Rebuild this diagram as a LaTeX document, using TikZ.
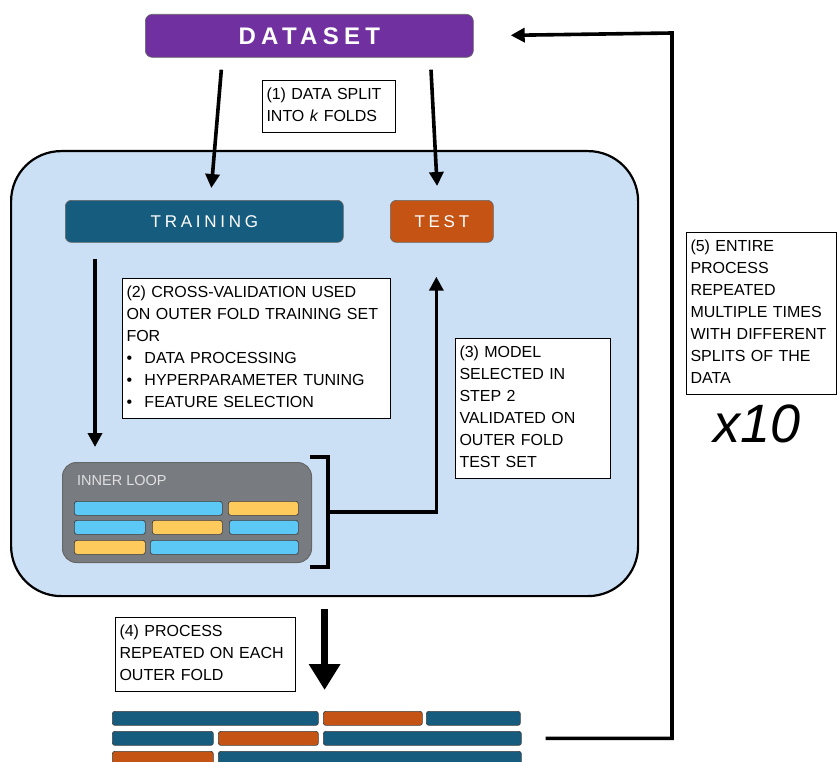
\documentclass[tikz,border=0pt]{standalone}
\usepackage{fontspec}
\setmainfont{Liberation Sans}
\newfontfamily\spacedfont[LetterSpace=22]{Liberation Sans}
\usetikzlibrary{arrows.meta}
\usetikzlibrary{positioning}

\definecolor{datapurple}{RGB}{112,48,160}
\definecolor{outerblue}{RGB}{204,224,245}
\definecolor{trainteal}{RGB}{22,92,126}
\definecolor{testorange}{RGB}{197,84,20}
\definecolor{innergray}{RGB}{120,123,128}
\definecolor{foldcyan}{RGB}{92,200,245}
\definecolor{foldyellow}{RGB}{255,202,92}

\tikzset{
  header/.style={draw=black!60, line width=0.7pt, rounded corners=6pt, text=white, anchor=north west, inner sep=0pt},
  stepnote/.style={draw, fill=white, line width=1pt, anchor=north west, inner sep=4pt, align=left,
    font=\fontsize{16}{22}\selectfont, execute at begin node=\strut, execute at end node=\strut},
  bar/.style={draw=black!75, line width=0.7pt, rounded corners=2.5pt, anchor=north west, inner sep=0pt, minimum height=14pt},
  arr/.style={line width=3.6pt, -{Triangle[length=14pt,width=14pt]}},
}

\begin{document}
\begin{tikzpicture}[x=1pt,y=-1pt]
  \useasboundingbox (0,0) rectangle (837,762);

  % top of the picture
  \node[header, fill=datapurple, minimum width=328pt, minimum height=43pt, rounded corners=7pt,
        font=\spacedfont\bfseries\fontsize{24}{24}\selectfont] (dataset) at (145,14) {DATASET};
  \node[stepnote, text width=125pt] (splitnote) at (262,80) {(1) DATA SPLIT\\INTO \textit{k} FOLDS};

  % outer fold
  \node[draw, line width=2.2pt, fill=outerblue, rounded corners=50pt, anchor=north west,
        minimum width=627pt, minimum height=445pt] (outer) at (10,150) {};
  \node[header, fill=trainteal, minimum width=278pt, minimum height=42pt,
        font=\spacedfont\fontsize{17}{17}\selectfont] (training) at (65,200) {TRAINING};
  \node[header, fill=testorange, minimum width=103pt, minimum height=42pt,
        font=\spacedfont\fontsize{17}{17}\selectfont] (test) at (390,200) {TEST};

  \node[stepnote, text width=260pt] (cvnote) at (122,278) {(2) CROSS-VALIDATION USED\\ON OUTER FOLD TRAINING SET\\FOR\\
    \makebox[18pt][l]{\textbullet}DATA PROCESSING\\
    \makebox[18pt][l]{\textbullet}HYPERPARAMETER TUNING\\
    \makebox[18pt][l]{\textbullet}FEATURE SELECTION};
  \node[stepnote, text width=147pt] (modelnote) at (455,338) {(3) MODEL\\SELECTED IN\\STEP 2\\VALIDATED ON\\OUTER FOLD\\TEST SET};

  % inner loop
  \node[draw=black!60, line width=1pt, fill=innergray, rounded corners=14pt, anchor=north west,
        minimum width=249pt, minimum height=100pt] (inner) at (62,462) {};
  \node[anchor=north west, inner sep=0pt, text=black!12, font=\fontsize{14.5}{14.5}\selectfont]
        (innerlabel) at (77,475) {INNER LOOP};
  \node[bar, fill=foldcyan, minimum width=148pt] (ia) at (74,501) {};
  \node[bar, fill=foldyellow, minimum width=70pt] (ib) at (228,501) {};
  \node[bar, fill=foldcyan, minimum width=71pt] (ic) at (74,520) {};
  \node[bar, fill=foldyellow, minimum width=70pt] (id) at (152,520) {};
  \node[bar, fill=foldcyan, minimum width=69pt] (ie) at (229,520) {};
  \node[bar, fill=foldyellow, minimum width=71pt] (if) at (74,540) {};
  \node[bar, fill=foldcyan, minimum width=148pt] (ig) at (150,540) {};

  % bracket
  \draw[line width=3.4pt] (310,457) -| (328,567) -- (310,567);
  \coordinate (brmid) at (328,512);

  % outer folds
  \node[stepnote, text width=172pt] (repeatnote) at (115,617) {(4) PROCESS\\REPEATED ON EACH\\OUTER FOLD};
  \node[bar, fill=trainteal, minimum width=206pt] (oa) at (112,711) {};
  \node[bar, fill=testorange, minimum width=99pt] (ob) at (323,711) {};
  \node[bar, fill=trainteal, minimum width=94pt] (oc) at (426,711) {};
  \node[bar, fill=trainteal, minimum width=101pt] (od) at (112,731) {};
  \node[bar, fill=testorange, minimum width=100pt] (oe) at (218,731) {};
  \node[bar, fill=trainteal, minimum width=198pt] (of) at (323,731) {};
  \node[bar, fill=testorange, minimum width=101pt] (og) at (112,751) {};
  \node[bar, fill=trainteal, minimum width=303pt] (oh) at (218,751) {};

  % repeat loop
  \node[stepnote, text width=142pt] (entirenote) at (686,232) {(5) ENTIRE\\PROCESS\\REPEATED\\MULTIPLE TIMES\\WITH DIFFERENT\\SPLITS OF THE\\DATA};
  \node[font=\fontsize{54}{54}\selectfont\itshape, inner sep=0pt] (times) at (757,424) {x10};

  % arrows
  \draw[arr, shorten <=12pt, shorten >=12pt] ([xshift=-87pt]dataset.south) -- ([xshift=6pt]training.north);
  \draw[arr, shorten <=12pt, shorten >=14pt] ([xshift=121pt]dataset.south) -- ([xshift=-4pt]test.north);
  \draw[arr, shorten <=16pt, shorten >=15pt] ([xshift=30pt]training.south west) -- ([xshift=33pt]inner.north west);
  \draw[arr] (brmid) -| ([xshift=-5.5pt,yshift=-34pt]test.south);
  \draw[line width=7.5pt, -{Triangle[length=26pt,width=30pt]}, shorten <=12pt, shorten >=21pt]
        (outer.south) -- (outer.south |- oa.north);
  \draw[arr, shorten <=24pt, shorten >=37pt] (of.east) -| (672,33) -- (dataset.east);
\end{tikzpicture}
\end{document}
